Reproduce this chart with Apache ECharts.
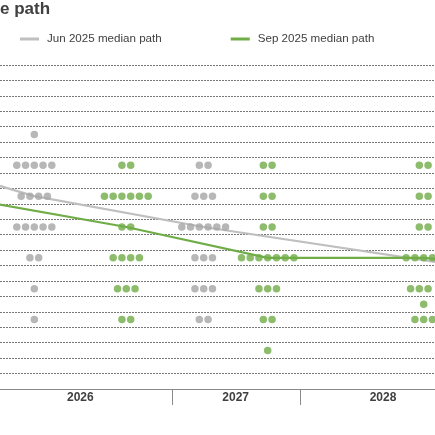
<!DOCTYPE html>
<html>
<head>
<meta charset="utf-8">
<script src="https://cdn.jsdelivr.net/npm/echarts@6/dist/echarts.min.js"></script>
<style>
html,body{margin:0;padding:0;background:#fff;}
#chart{width:435px;height:435px;}
</style>
</head>
<body>
<div id="chart"></div>
<script>
// ---- data ----
const yLevels = [2.125, 2.25, 2.375, 2.5, 2.625, 2.75, 2.875, 3, 3.125, 3.25, 3.375, 3.5, 3.625, 3.75, 3.875, 4, 4.125, 4.25, 4.375, 4.5, 4.625];
const dotLevels = [4.125, 3.875, 3.625, 3.375, 3.125, 2.875, 2.75, 2.625, 2.375];
const yearLabels = ['2026', '2027', '2028'];
const junDots2026 = [1, 5, 4, 5, 2, 1, 0, 1, 0];
const junDots2027 = [0, 2, 3, 6, 3, 3, 0, 2, 0];
const sepDots2026 = [0, 2, 6, 2, 4, 3, 0, 2, 0];
const sepDots2027 = [0, 2, 2, 2, 7, 3, 0, 2, 1];
const sepDots2028 = [0, 2, 2, 2, 5, 4, 1, 3, 0];
const medianPeriods = ['2025', '2026', '2027', '2028', 'Longer run'];
const junMedian = [3.875, 3.625, 3.375, null, 3.0];
const sepMedian = [3.625, 3.375, 3.125, 3.125, 3.0];

// ---- layout (axis units) ----
const junX = [-70, 34.3, 203.7, null, 510];
const sepX = [-48, 126.3, 267.7, 423.7, 580];
const yearLabelX = [80.3, 235.7, 383];
const dividerX = [172, 300];
const dotStep = 8.75;

function dots(counts, center) {
  const out = [];
  counts.forEach(function (n, k) {
    for (let i = 0; i < n; i++) {
      out.push([center + (i - (n - 1) / 2) * dotStep, String(dotLevels[k])]);
    }
  });
  return out;
}
function path(values, xs) {
  const out = [];
  values.forEach(function (v, i) {
    if (v != null && xs[i] != null) out.push([xs[i], String(v)]);
  });
  return out;
}

const GRAY_DOT = '#a5a5a5', GREEN = '#70ad47', GRAY_LINE = '#bfbfbf';
const FONT = 'Liberation Sans, Arial, sans-serif';

const chart = echarts.init(document.getElementById('chart'), null, {renderer: 'canvas'});
chart.setOption({
  animation: false,
  title: {
    text: 'e path', left: 0, top: 1, padding: 0,
    textStyle: {fontSize: 17, fontWeight: 'bold', color: '#404040', fontFamily: FONT}
  },
  legend: {
    data: [{name: 'Jun 2025 median path', icon: 'rect'}, {name: 'Sep 2025 median path', icon: 'rect'}],
    left: 20, top: 33, padding: 0,
    itemWidth: 19, itemHeight: 3, itemGap: 69,
    textStyle: {fontSize: 11.6, color: '#404040', fontFamily: FONT, padding: [0, 0, 0, 3]}
  },
  grid: {left: 0, right: 0, top: 65, bottom: 46, containLabel: false},
  xAxis: {
    type: 'value', min: 0, max: 435,
    axisLine: {show: true, lineStyle: {color: '#8a8a8a', width: 1}},
    axisTick: {show: true, customValues: dividerX, length: 16, lineStyle: {color: '#8a8a8a', width: 1}},
    axisLabel: {
      show: true, customValues: yearLabelX, margin: 3,
      fontSize: 12, fontWeight: 'bold', color: '#404040', fontFamily: FONT,
      formatter: function (v) {
        let best = 0;
        yearLabelX.forEach(function (p, i) { if (Math.abs(p - v) < Math.abs(yearLabelX[best] - v)) best = i; });
        return yearLabels[best];
      }
    },
    splitLine: {show: false}
  },
  yAxis: {
    type: 'category', data: yLevels.map(String), boundaryGap: true,
    axisLine: {show: false}, axisTick: {show: false}, axisLabel: {show: false},
    splitLine: {show: true, interval: 0, lineStyle: {color: '#777777', width: 1, type: [2, 1]}}
  },
  series: [
    {name: 'Jun 2025 median path', type: 'line', data: path(junMedian, junX), symbol: 'none', clip: true, z: 2,
     lineStyle: {color: GRAY_LINE, width: 2.25}, itemStyle: {color: GRAY_LINE}},
    {name: 'Sep 2025 median path', type: 'line', data: path(sepMedian, sepX), symbol: 'none', clip: true, z: 2,
     lineStyle: {color: GREEN, width: 2.25}, itemStyle: {color: GREEN}},
    {name: 'Jun 2025 dots', type: 'scatter', symbolSize: 7.5, z: 3, itemStyle: {color: GRAY_DOT},
     data: dots(junDots2026, junX[1]).concat(dots(junDots2027, junX[2]))},
    {name: 'Sep 2025 dots', type: 'scatter', symbolSize: 7.5, z: 3, itemStyle: {color: GREEN},
     data: dots(sepDots2026, sepX[1]).concat(dots(sepDots2027, sepX[2]), dots(sepDots2028, sepX[3]))}
  ]
});
</script>
</body>
</html>
